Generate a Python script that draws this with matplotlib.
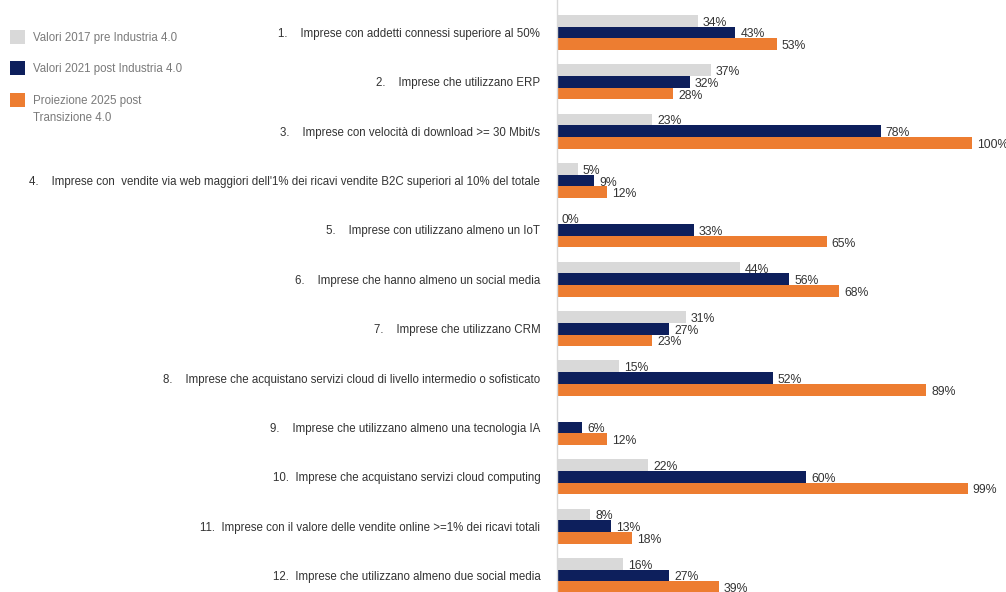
import matplotlib
matplotlib.use("Agg")
import matplotlib.pyplot as plt
from matplotlib.patches import Rectangle

plt.rcParams['font.family'] = ['Liberation Sans Narrow', 'Liberation Sans', 'DejaVu Sans']

categories = [
    "1.    Imprese con addetti connessi superiore al 50%",
    "2.    Imprese che utilizzano ERP",
    "3.    Imprese con velocità di download >= 30 Mbit/s",
    "4.    Imprese con  vendite via web maggiori dell'1% dei ricavi vendite B2C superiori al 10% del totale",
    "5.    Imprese con utilizzano almeno un IoT",
    "6.    Imprese che hanno almeno un social media",
    "7.    Imprese che utilizzano CRM",
    "8.    Imprese che acquistano servizi cloud di livello intermedio o sofisticato",
    "9.    Imprese che utilizzano almeno una tecnologia IA",
    "10.  Imprese che acquistano servizi cloud computing",
    "11.  Imprese con il valore delle vendite online >=1% dei ricavi totali",
    "12.  Imprese che utilizzano almeno due social media",
]
series_names = [
    "Valori 2017 pre Industria 4.0",
    "Valori 2021 post Industria 4.0",
    "Proiezione 2025 post\nTransizione 4.0",
]
v2017 = [34, 37, 23, 5, 0, 44, 31, 15, None, 22, 8, 16]
v2021 = [43, 32, 78, 9, 33, 56, 27, 52, 6, 60, 13, 27]
v2025 = [53, 28, 100, 12, 65, 68, 23, 89, 12, 99, 18, 39]

colors = ['#d9d9d9', '#0d1f5c', '#ed7d31']
label_color = '#333333'

fig = plt.figure(figsize=(10.06, 5.92), dpi=100)
ax = fig.add_axes([557 / 1006, 0, 1 - 557 / 1006, 1])

h = 0.237
pos = list(range(len(categories)))
for k, (vals, col) in enumerate(zip([v2017, v2021, v2025], colors)):
    off = (k - 1) * h
    for i, v in enumerate(vals):
        if v is None:
            continue
        ax.barh(i + off, v, height=h, color=col, linewidth=0)
        ax.text(v + 1.2, i + off + 0.04, f"{v}%", va='center', ha='left',
                fontsize=8.8, color=label_color)

ax.set_xlim(0, 108.2)
ax.set_ylim(11.335, -0.658)
ax.set_yticks(pos)
ax.set_yticklabels(categories, fontsize=8.3, color=label_color)
ax.tick_params(axis='y', length=0, pad=12)
ax.set_xticks([])
for s in ['top', 'right', 'bottom']:
    ax.spines[s].set_visible(False)
ax.spines['left'].set_color('#d8d8d8')
ax.spines['left'].set_linewidth(1)

# legend drawn by hand in figure pixels
W, H = 1006, 592
leg_y = [37, 68, 100]
for name, col, y in zip(series_names, colors, leg_y):
    fig.patches.append(Rectangle((10 / W, 1 - (y + 7) / H), 15 / W, 14 / H,
                                 transform=fig.transFigure, color=col, linewidth=0))
    fig.text(33 / W, 1 - (y - 5) / H, name, va='top', ha='left', fontsize=8.3,
             color='#7a7a7a', linespacing=1.55)

fig.savefig("out.png", dpi=100)
